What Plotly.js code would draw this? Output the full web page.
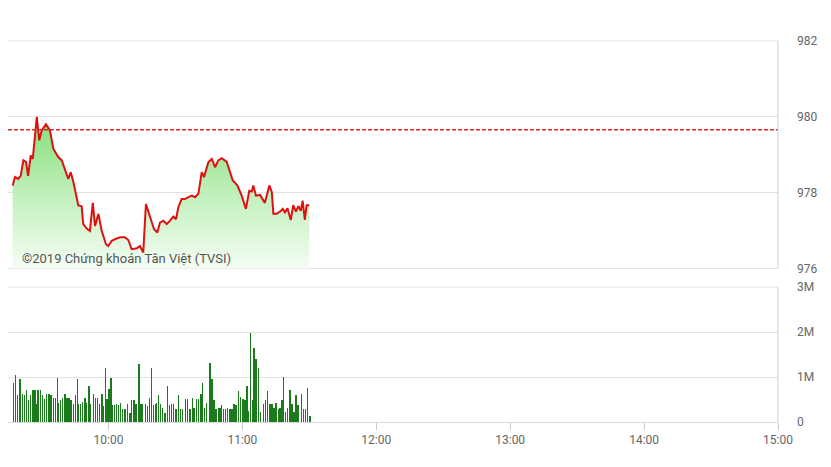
<!DOCTYPE html>
<html>
<head>
<meta charset="utf-8">
<script src="https://cdn.plot.ly/plotly-3.0.1.min.js"></script>
<style>html,body{margin:0;padding:0;background:#fff;}#chart{width:831px;height:467px;}</style>
</head>
<body>
<div id="chart"></div>
<script>
// Price: minutes after 09:15 and index values
var priceMinutes = [2.1,3.1,4.6,5.7,6.9,8.1,9.0,10.2,11.1,12.1,12.9,14.0,15.1,17.0,18.8,20.3,22.5,24.1,25.5,27.0,28.1,29.3,31.5,33.0,33.7,35.5,36.7,38.0,39.0,40.5,42.0,43.9,44.9,46.5,47.9,50.2,52.4,53.9,55.4,57.7,59.1,60.6,61.8,63.6,65.4,66.9,68.1,69.6,71.1,72.6,74.1,75.3,76.3,77.8,79.3,80.8,82.3,83.8,85.3,86.8,87.8,89.8,91.3,92.8,94.2,95.8,98.0,100.7,102.7,104.7,106.6,108.1,109.2,109.9,111.1,112.9,115.1,117.1,118.2,118.9,120.4,121.9,123.1,124.1,125.2,126.7,127.8,129.0,130.1,131.2,132.0,133.0,133.8,135.0];
var priceValues = [978.19,978.41,978.36,978.45,978.85,978.81,978.44,978.98,978.89,979.64,980.0,979.38,979.64,979.80,979.64,979.16,978.94,978.85,978.63,978.36,978.54,978.28,977.66,977.64,977.17,977.04,976.99,977.73,977.12,977.44,976.99,976.64,976.59,976.73,976.77,976.82,976.82,976.75,976.51,976.53,976.59,976.42,977.70,977.35,977.04,976.95,977.21,977.26,977.17,977.26,977.37,977.30,977.61,977.83,977.83,977.88,977.92,977.88,977.97,978.54,978.41,978.81,978.89,978.67,978.85,978.91,978.81,978.32,978.20,977.92,977.57,978.05,978.03,978.19,977.92,977.94,977.73,978.19,978.01,977.44,977.44,977.50,977.57,977.48,977.59,977.28,977.67,977.50,977.64,977.52,977.79,977.28,977.67,977.67];

// Volume: minutes after 09:15 and volume in millions
var volMinutes = [2.4,3.4,4.3,5.4,6.4,7.3,8.2,9.1,10.2,11.2,12.1,12.9,13.4,14.5,15.4,16.4,17.3,18.4,19.3,20.3,21.2,22.1,22.7,23.6,24.5,25.5,26.4,27.3,28.2,29.3,30.2,31.1,31.7,32.6,33.5,34.5,35.3,36.2,37.0,38.2,39.1,40.2,41.1,42.1,42.7,43.6,44.4,45.3,46.2,46.9,47.8,48.7,49.6,50.5,51.2,52.4,53.5,54.7,55.4,56.5,57.4,58.6,59.5,60.3,61.5,62.4,63.3,64.2,65.1,66.0,66.6,67.5,68.4,69.3,70.4,71.4,72.3,73.2,74.1,75.3,76.5,77.4,78.3,79.5,80.4,81.6,82.6,83.4,84.5,85.4,86.5,87.1,88.1,89.0,90.5,91.4,92.3,93.2,94.3,95.0,95.7,96.5,97.5,98.4,99.5,100.4,101.3,102.2,103.4,104.3,105.2,106.1,107.0,107.8,108.6,109.5,110.2,111.1,112.3,113.2,114.4,115.3,116.2,117.4,118.2,119.2,120.1,121.1,121.9,122.8,123.5,124.3,125.2,126.4,127.3,128.2,129.1,130.0,131.4,132.3,133.2,134.1,135.3];
var volMillions = [0.86,1.04,0.59,0.95,0.63,0.59,0.72,0.49,0.59,0.72,0.72,0.39,0.72,0.72,0.59,0.51,0.63,0.63,0.61,0.54,0.54,0.97,0.43,0.50,0.54,0.63,0.54,0.54,0.48,0.39,0.59,0.95,0.39,0.39,0.44,0.54,0.43,0.81,0.41,0.63,0.54,0.54,0.41,0.63,0.35,1.19,0.51,0.74,0.97,0.37,0.37,0.41,0.37,0.43,0.29,0.29,0.39,0.20,0.50,0.49,0.41,1.28,0.41,0.39,0.41,0.35,0.54,1.21,0.37,0.39,0.43,0.61,0.39,0.31,0.20,0.81,0.37,0.39,0.39,0.29,0.61,0.28,0.28,0.51,0.51,0.28,0.54,0.31,0.51,0.51,0.63,0.86,0.31,0.43,1.32,0.96,0.50,0.29,0.31,0.31,0.37,0.28,0.28,0.31,0.29,0.29,0.41,0.37,0.70,0.56,0.51,0.50,0.81,0.24,1.98,0.49,1.64,1.40,1.21,0.22,0.41,0.50,0.70,0.39,0.39,0.31,0.43,0.29,0.31,0.50,0.99,0.22,0.31,0.72,0.39,0.22,0.59,0.37,0.63,0.28,0.29,0.76,0.14];

var refPrice = 979.66;
var xTickText = ['10:00','11:00','12:00','13:00','14:00','15:00'];
var priceTicks = [976,978,980,982];
var volTicks = [0,1,2,3];
var volTickText = ['0','1M','2M','3M'];

function pad(n){return (n<10?'0':'')+n;}
function timeStr(min){
  var totalSec = Math.round((9*60+15+min)*60);
  var h = Math.floor(totalSec/3600), m = Math.floor((totalSec%3600)/60), s = totalSec%60;
  return '2019-01-01 '+pad(h)+':'+pad(m)+':'+pad(s);
}
function hhmm(t){return '2019-01-01 '+t+':00';}

var px = priceMinutes.map(timeStr);
var vx = volMinutes.map(timeStr);
var vy = volMillions.map(function(v){return v*1e6;});

var priceTrace = {
  x: px, y: priceValues, type:'scatter', mode:'lines',
  xaxis:'x', yaxis:'y',
  line:{color:'#e01010', width:2},
  fill:'tozeroy',
  fillgradient:{type:'vertical', start:976, stop:980,
    colorscale:[[0,'rgb(245,253,245)'],[0.5,'rgb(192,240,186)'],[1,'rgb(130,222,120)']]},
  hoverinfo:'skip'
};
var volTrace = {
  x: vx, y: vy, type:'bar', xaxis:'x2', yaxis:'y2',
  marker:{color:'#1b7a1b', line:{width:0}},
  width: 38000,
  hoverinfo:'skip'
};

var xr = [hhmm('09:15'), hhmm('15:00')];
var xtv = xTickText.map(hhmm);
var tickFont = {family:'Roboto, sans-serif', size:12, color:'#666'};
var gridCol = '#e2e2e2';

function hline(xref, yref, y, col){
  return {type:'line', xref:xref, yref:yref, x0:0, x1:1, y0:y, y1:y, layer:'below',
    line:{color:col, width:1}};
}

var layout = {
  width:831, height:467,
  margin:{l:8, r:53, t:41, b:45},
  paper_bgcolor:'#fff', plot_bgcolor:'#fff',
  showlegend:false, bargap:0,
  xaxis:{range:xr, type:'date', domain:[0,1], anchor:'y', matches:'x2',
    showticklabels:false, ticks:'', showgrid:false, zeroline:false,
    tickvals:xtv},
  yaxis:{domain:[0.403,1], range:[976,982], side:'right', anchor:'x',
    tickvals:priceTicks, ticktext:priceTicks.map(String),
    showgrid:true, gridcolor:gridCol, gridwidth:1, zeroline:false,
    ticks:'', ticklabelstandoff:18, tickfont:tickFont, fixedrange:true},
  xaxis2:{range:xr, type:'date', domain:[0,1], anchor:'y2',
    tickvals:xtv, ticktext:xTickText, ticks:'outside', ticklen:7, tickcolor:'#ccc',
    showgrid:false, zeroline:false, showline:true, linecolor:'#d8d8d8', linewidth:1,
    tickfont:tickFont},
  yaxis2:{domain:[0,0.354], range:[0,3e6], side:'right', anchor:'x2',
    tickvals:volTicks.map(function(v){return v*1e6;}), ticktext:volTickText,
    showgrid:true, gridcolor:gridCol, gridwidth:1, zeroline:false,
    ticks:'', ticklabelstandoff:18, tickfont:tickFont},
  shapes:[
    hline('x domain','y domain',1,gridCol),
    hline('x domain','y domain',0,gridCol),
    hline('x2 domain','y2 domain',1,gridCol),
    {type:'line', xref:'x domain', yref:'y', x0:0, x1:1, y0:refPrice, y1:refPrice,
      line:{color:'#e02828', width:1.5, dash:'4px,2px'}},
    {type:'line', xref:'x domain', yref:'y domain', x0:1, x1:1, y0:0, y1:1,
      line:{color:'#d0d0d0', width:1}},
    {type:'line', xref:'x2 domain', yref:'y2 domain', x0:1, x1:1, y0:0, y1:1,
      line:{color:'#d0d0d0', width:1}}
  ],
  annotations:[
    {text:'©2019 Chứng khoán Tân Việt (TVSI)', xref:'paper', yref:'y', x:0.016, y:976.27,
      xanchor:'left', yanchor:'middle', showarrow:false,
      font:{family:'Roboto, sans-serif', size:13, color:'#555'}}
  ]
};

Plotly.newPlot('chart', [priceTrace, volTrace], layout, {displayModeBar:false, staticPlot:true});
</script>
</body>
</html>
